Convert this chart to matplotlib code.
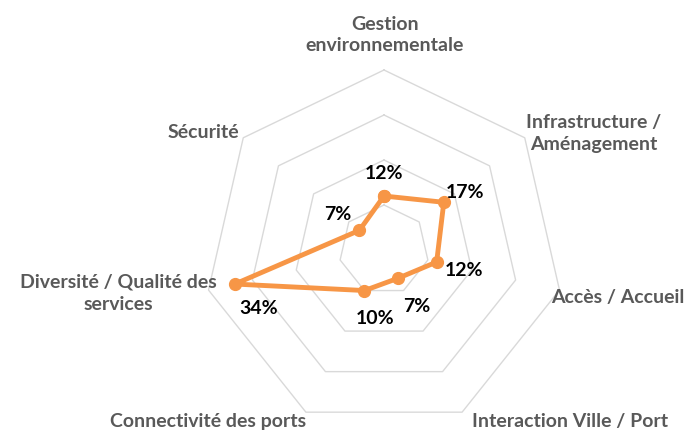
import numpy as np
import matplotlib
matplotlib.use("Agg")
import matplotlib.pyplot as plt

# chart data (percent), clockwise from the top
categories = ["Gestion\nenvironnementale", "Infrastructure /\nAménagement",
              "Accès / Accueil", "Interaction Ville / Port",
              "Connectivité des ports", "Diversité / Qualité des\nservices",
              "Sécurité"]
values = [12, 17, 12, 7, 10, 34, 7]
value_labels = ["12%", "17%", "12%", "7%", "10%", "34%", "7%"]
rings = [10, 20, 30, 40]

# layout (pixel offsets of labels, set by eye)
cat_offsets = [(1, -36), (69, -5), (58, 6), (108, 8), (-98, 8), (-90, 2), (-40, -6)]
val_offsets = [(0, -23), (21, -11), (27, 7), (19, 27), (11, 27), (24, 23), (-22, -17)]
orange = "#f79646"
grid_grey = "#d9d9d9"
text_grey = "#595959"

n = len(categories)
theta = np.arange(n) * 2 * np.pi / n
dx, dy = np.sin(theta), np.cos(theta)

fig = plt.figure(figsize=(6.95, 4.31), dpi=100)
ax = fig.add_axes((0, 0, 1, 1))
px = 4.5  # pixels per percent
ax.set_xlim(-384 / px, (695 - 384) / px)
ax.set_ylim(-(431 - 251) / px, 251 / px)
ax.axis("off")

# heptagon grid
for r in rings:
    ax.plot(np.append(dx, dx[0]) * r, np.append(dy, dy[0]) * r,
            color=grid_grey, lw=1, zorder=1)

# data series
xs = np.array(values) * dx
ys = np.array(values) * dy
ax.plot(np.append(xs, xs[0]), np.append(ys, ys[0]), color=orange, lw=3.5,
        marker="o", markersize=8.5, solid_joinstyle="round", zorder=3)

font = "Lato"
for i in range(n):
    ox, oy = cat_offsets[i]
    ax.annotate(categories[i], (rings[-1] * dx[i], rings[-1] * dy[i]),
                xytext=(ox * 0.72, -oy * 0.72), textcoords="offset points",
                ha="center", va="center", fontsize=14, fontweight="bold",
                color=text_grey, family=font, linespacing=1.35)
    ox, oy = val_offsets[i]
    ax.annotate(value_labels[i], (xs[i], ys[i]),
                xytext=(ox * 0.72, -oy * 0.72), textcoords="offset points",
                ha="center", va="center", fontsize=14, fontweight="bold",
                color="black", family=font)

fig.savefig("out.png", dpi=100)
